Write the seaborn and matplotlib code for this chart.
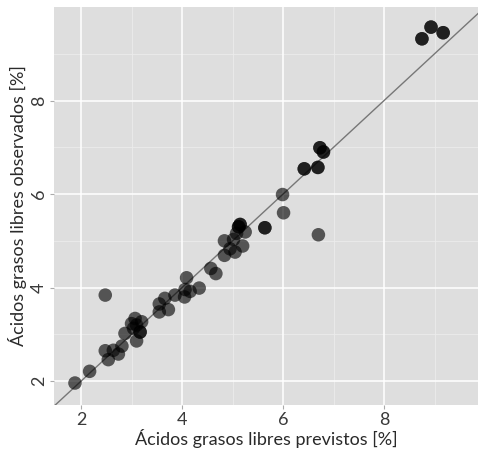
import matplotlib
matplotlib.use("Agg")
import matplotlib.pyplot as plt
import seaborn as sns
import numpy as np
import pandas as pd

# Predicted vs observed free fatty acids [%]
previstos = [1.88, 2.17, 2.48, 2.48, 2.54, 2.64, 2.74, 2.81, 2.87, 3.00, 3.07, 3.10,
             3.17, 3.20, 3.04, 3.55, 3.55, 3.66, 3.73, 3.86, 4.05, 4.09, 4.06, 4.16,
             4.34, 4.57, 4.67, 4.84, 4.84, 4.95, 5.05, 5.08, 5.12, 5.15, 5.20, 5.25,
             5.02, 5.64, 5.99, 6.01, 6.70, 6.42, 6.69, 6.73, 6.80, 8.75, 8.93, 9.17,
             # repeated observations (overlapping points)
             3.10, 3.17, 5.12, 5.15, 5.64, 6.42, 6.69, 6.73, 6.80, 8.75, 8.93, 9.17]
observados = [1.96, 2.21, 3.84, 2.65, 2.46, 2.66, 2.58, 2.75, 3.02, 3.23, 3.34, 2.86,
              3.05, 3.27, 3.13, 3.65, 3.48, 3.77, 3.53, 3.84, 3.80, 4.21, 3.96, 3.92,
              3.99, 4.41, 4.30, 4.69, 5.00, 4.83, 4.76, 5.16, 5.30, 5.35, 4.89, 5.19,
              5.03, 5.28, 5.99, 5.60, 5.13, 6.54, 6.57, 6.99, 6.90, 9.32, 9.57, 9.45,
              3.20, 3.05, 5.30, 5.35, 5.28, 6.54, 6.57, 6.99, 6.90, 9.32, 9.57, 9.45]

x_ticks = [2, 4, 6, 8]
y_ticks = [2, 4, 6, 8]
x_label = "Ácidos grasos libres previstos [%]"
y_label = "Ácidos grasos libres observados [%]"

df = pd.DataFrame({"previstos": previstos, "observados": observados})

plt.rcParams['font.family'] = ['Lato', 'DejaVu Sans']

fig = plt.figure(figsize=(4.78, 4.51), dpi=100)
ax = fig.add_axes([54/478, 1 - 405/451, 1 - 54/478, (405 - 7)/451])
ax.set_facecolor("#dedede")

xlim = (1.465, 9.86)
ylim = (1.49, 10.0)
ax.set_xlim(*xlim)
ax.set_ylim(*ylim)

# grid
for v in [3, 5, 7, 9]:
    ax.axvline(v, color="#ececec", lw=0.6, zorder=0)
    ax.axhline(v, color="#ececec", lw=0.6, zorder=0)
for v in x_ticks:
    ax.axvline(v, color="white", lw=1.1, zorder=0)
for v in y_ticks:
    ax.axhline(v, color="white", lw=1.1, zorder=0)

ax.plot([0, 11], [0, 11], color="#777777", lw=1.0, zorder=1)

sns.scatterplot(data=df, x="previstos", y="observados", ax=ax, color="black",
                alpha=0.62, s=95, edgecolor="none", linewidth=0, zorder=2)

ax.set_xticks(x_ticks)
ax.set_yticks(y_ticks)
ax.set_xticklabels([str(t) for t in x_ticks], fontsize=13, color="#3a3a3a")
ax.set_yticklabels([str(t) for t in y_ticks], fontsize=13, color="#3a3a3a",
                   rotation=90, va="center")
ax.tick_params(axis="both", length=3, color="#aaaaaa", width=0.8, pad=2)
ax.set_xlabel(x_label, fontsize=13, color="#2a2a2a", labelpad=1)
ax.set_ylabel(y_label, fontsize=13, color="#2a2a2a", labelpad=3)
for sp in ax.spines.values():
    sp.set_visible(False)

fig.savefig("out.png", dpi=100)
